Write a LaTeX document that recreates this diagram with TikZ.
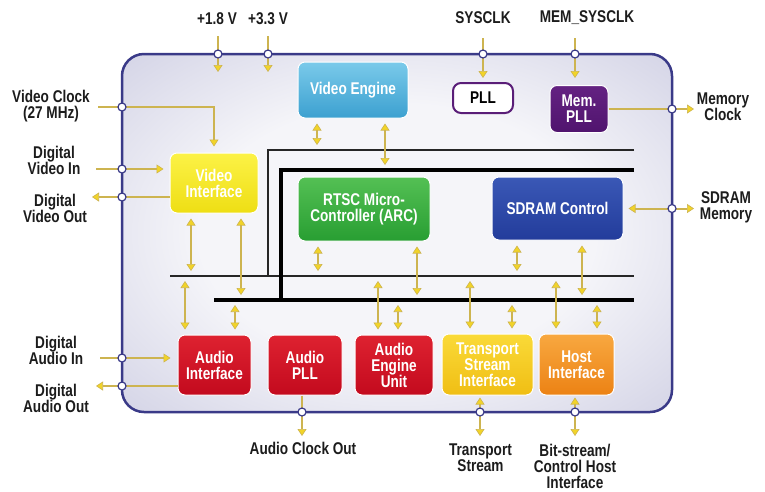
\documentclass[tikz,border=0pt]{standalone}
\usepackage{fontspec}
\setmainfont{Liberation Sans}[FakeStretch=0.8]
\usetikzlibrary{arrows.meta}
\definecolor{navy}{RGB}{58,58,136}
\definecolor{chipin}{RGB}{245,245,249}
\definecolor{chipmid}{RGB}{215,215,232}
\definecolor{chipout}{RGB}{176,176,210}
\definecolor{wirec}{RGB}{205,180,80}
\definecolor{headc}{RGB}{242,212,40}
\definecolor{labc}{RGB}{28,28,28}
\definecolor{vetop}{RGB}{122,202,234}
\definecolor{vebot}{RGB}{60,160,208}
\definecolor{vitop}{RGB}{252,242,70}
\definecolor{vibot}{RGB}{238,222,20}
\definecolor{rttop}{RGB}{84,192,84}
\definecolor{rtbot}{RGB}{40,158,50}
\definecolor{sdtop}{RGB}{58,88,182}
\definecolor{sdbot}{RGB}{35,60,155}
\definecolor{mptop}{RGB}{100,34,130}
\definecolor{mpbot}{RGB}{80,20,110}
\definecolor{pllc}{RGB}{90,30,120}
\definecolor{rdtop}{RGB}{222,34,48}
\definecolor{rdbot}{RGB}{195,10,30}
\definecolor{tstop}{RGB}{250,218,56}
\definecolor{tsbot}{RGB}{240,190,20}
\definecolor{hitop}{RGB}{248,168,64}
\definecolor{hibot}{RGB}{236,130,20}
\pgfdeclareradialshading{chipshade}{\pgfpoint{0bp}{0bp}}{color(0bp)=(chipin); color(18bp)=(chipin); color(34bp)=(chipmid); color(50bp)=(chipout)}
\begin{document}
\begin{tikzpicture}[x=1pt,y=-1pt,
  txt/.style={font=\bfseries\fontsize{17}{16}\selectfont},
  blk/.style={txt, rounded corners=7pt, draw=white, line width=1pt, text=white, align=center, inner sep=0pt},
  lbl/.style={txt, align=center, text=labc, inner sep=0pt},
  port/.style={circle, draw=navy, fill=white, line width=1.2pt, minimum size=8pt, inner sep=0pt},
  wire/.style={draw=wirec, line width=2pt},
  sar/.style={wire, -{Triangle[width=9pt,length=7pt,fill=headc,line width=0.6pt]}},
  bar/.style={wire, {Triangle[width=9pt,length=7pt,fill=headc,line width=0.6pt]}-{Triangle[width=9pt,length=7pt,fill=headc,line width=0.6pt]}, shorten <=5pt, shorten >=5pt},
  thinbus/.style={draw=black!85, line width=1.4pt},
  thickbus/.style={draw=black, line width=3.5pt}
]
\useasboundingbox (0,0) rectangle (765,491);
\fill[white] (0,0) rectangle (765,491);

% chip
\node[shade, shading=chipshade, draw=navy, line width=2.5pt, rounded corners=22pt,
      minimum width=550pt, minimum height=358pt, inner sep=0pt] (chip) at (397,233) {};

% blocks
\node[blk, minimum width=110pt, minimum height=56pt, top color=vetop, bottom color=vebot] (ve) at (353,90) {Video Engine};
\node[txt, rounded corners=8pt, draw=pllc, line width=2pt, fill=white, text=black, inner sep=0pt, minimum width=60pt, minimum height=30pt] (pll) at (483,98) {PLL};
\node[blk, minimum width=58pt, minimum height=47pt, top color=mptop, bottom color=mpbot] (mpll) at (579,109) {Mem.\\PLL};
\node[blk, minimum width=88pt, minimum height=60pt, top color=vitop, bottom color=vibot] (vi) at (214,183) {Video\\Interface};
\node[blk, minimum width=132pt, minimum height=64pt, top color=rttop, bottom color=rtbot] (rtsc) at (364,209) {RTSC Micro-\\Controller (ARC)};
\node[blk, minimum width=131pt, minimum height=63pt, top color=sdtop, bottom color=sdbot] (sdram) at (557.5,208.5) {SDRAM Control};
\node[blk, minimum width=73pt, minimum height=60pt, top color=rdtop, bottom color=rdbot] (ai) at (214.5,365) {Audio\\Interface};
\node[blk, minimum width=74pt, minimum height=60pt, top color=rdtop, bottom color=rdbot] (apll) at (305,365) {Audio\\PLL};
\node[blk, minimum width=78pt, minimum height=60pt, top color=rdtop, bottom color=rdbot] (aeu) at (394,365) {Audio\\Engine\\Unit};
\node[blk, minimum width=91pt, minimum height=61pt, top color=tstop, bottom color=tsbot] (tsi) at (487.5,364.5) {Transport\\Stream\\Interface};
\node[blk, minimum width=75pt, minimum height=61pt, top color=hitop, bottom color=hibot] (hi) at (576.5,364.5) {Host\\Interface};

% buses
\coordinate (bT1) at (268,150); \coordinate (bT2) at (634,150);
\coordinate (bK1) at (281,170); \coordinate (bK2) at (634,170);
\coordinate (bB1) at (170,276); \coordinate (bB2) at (634,276);
\coordinate (bH1) at (214,300); \coordinate (bH2) at (634,300);
\draw[thinbus] (bT2) -- (bT1) -- (bT1 |- bB1);
\draw[thinbus] (bB1) -- (bB2);
\draw[thickbus] (bK2) -- (bK1) -- (bK1 |- bH1);
\draw[thickbus] (bH1) -- (bH2);

% bus taps
\path ([xshift=-36pt]ve.south) coordinate (v1) ([xshift=32pt]ve.south) coordinate (v2)
  ([xshift=-23pt]vi.south) coordinate (v3) ([xshift=27pt]vi.south) coordinate (v4)
  ([xshift=-46pt]rtsc.south) coordinate (r1) ([xshift=53pt]rtsc.south) coordinate (r2)
  ([xshift=-40.5pt]sdram.south) coordinate (s1) ([xshift=24.5pt]sdram.south) coordinate (s2)
  ([xshift=-29.5pt]ai.north) coordinate (a1) ([xshift=20.5pt]ai.north) coordinate (a2)
  ([xshift=-16pt]aeu.north) coordinate (e1) ([xshift=4pt]aeu.north) coordinate (e2)
  ([xshift=-17.5pt]tsi.north) coordinate (t1) ([xshift=24.5pt]tsi.north) coordinate (t2)
  ([xshift=-20.5pt]hi.north) coordinate (h1) ([xshift=20.5pt]hi.north) coordinate (h2);
\draw[bar] (v1) -- (v1 |- bT1);
\draw[bar] (v2) -- (v2 |- bK1);
\draw[bar] (v3) -- (v3 |- bB1);
\draw[bar] (v4) -- (v4 |- bH1);
\draw[bar] (r1) -- (r1 |- bB1);
\draw[bar] (r2) -- (r2 |- bH1);
\draw[bar] (s1) -- (s1 |- bB1);
\draw[bar] (s2) -- (s2 |- bH1);
\draw[bar] (a1 |- bB1) -- (a1);
\draw[bar] (a2 |- bH1) -- (a2);
\draw[bar] (e1 |- bB1) -- (e1);
\draw[bar] (e2 |- bH1) -- (e2);
\draw[bar] (t1 |- bB1) -- (t1);
\draw[bar] (t2 |- bH1) -- (t2);
\draw[bar] (h1 |- bB1) -- (h1);
\draw[bar] (h2 |- bH1) -- (h2);

% external labels
\node[lbl] (l18) at (217,19) {+1.8 V};
\node[lbl] (l33) at (268,19) {+3.3 V};
\node[lbl] (lsys) at (483,17.5) {SYSCLK};
\node[lbl] (lmem) at (587,17.5) {MEM\_SYSCLK};
\node[lbl] (lvc) at (51,106) {Video Clock\\(27 MHz)};
\node[lbl] (lvin) at (54,160) {Digital\\Video In};
\node[lbl] (lvout) at (55,208) {Digital\\Video Out};
\node[lbl] (lmc) at (723,107) {Memory\\Clock};
\node[lbl] (lsd) at (726,207.5) {SDRAM\\Memory};
\node[lbl] (lain) at (56,350) {Digital\\Audio In};
\node[lbl] (laout) at (56,398) {Digital\\Audio Out};
\node[lbl] (lac) at (303,448.5) {Audio Clock Out};
\node[lbl] (lts) at (480.5,458) {Transport\\Stream};
\node[lbl] (lhi) at (575,466) {Bit-stream/\\Control Host\\Interface};

% external wires
\coordinate (s18) at (218,36); \coordinate (e18) at (218,72);
\coordinate (s33) at (268,36); \coordinate (e33) at (268,72);
\coordinate (ssys) at (483,38);
\coordinate (smem) at (575,38);
\coordinate (svc) at (98,107);
\coordinate (svin) at (96,169);
\coordinate (evout) at (92,197);
\coordinate (emc) at (694,109);
\coordinate (esd) at (694,208.5);
\coordinate (sain) at (100,358);
\coordinate (eaout) at (96,386);
\coordinate (eac) at (302,436);
\coordinate (ets) at (480,436);
\coordinate (ehi) at (575,436);

\draw[sar] (s18) -- (e18);
\draw[sar] (s33) -- (e33);
\draw[sar, shorten >=4pt] (ssys) -- (pll.north);
\draw[sar, shorten >=7pt] (smem) -- (smem |- mpll.north);
\draw[sar, shorten >=6pt] (svc) -- (svc -| vi.north) -- (vi.north);
\draw[sar, shorten >=6pt] (svin) -- (svin -| vi.west);
\draw[sar] (vi.west |- evout) -- (evout);
\draw[sar] (mpll.east) -- (emc);
\draw[bar, shorten >=0pt] (sdram.east) -- (esd);
\draw[sar, shorten >=7pt] (sain) -- (sain -| ai.west);
\draw[sar] (ai.west |- eaout) -- (eaout);
\draw[sar] (apll.south -| eac) -- (eac);
\draw[bar, shorten <=2pt, shorten >=0pt] (tsi.south -| ets) -- (ets);
\draw[bar, shorten <=2pt, shorten >=0pt] (hi.south -| ehi) -- (ehi);

% ports on the chip border
\node[port] (p18) at (218,54) {};
\node[port] (p33) at (268,54) {};
\node[port] (psys) at (483,54) {};
\node[port] (pmem) at (575,54) {};
\node[port] (pvc) at (122,107) {};
\node[port] (pvin) at (122,169) {};
\node[port] (pvout) at (122,197) {};
\node[port] (pmc) at (672,109) {};
\node[port] (psd) at (672,208.5) {};
\node[port] (pain) at (122,358) {};
\node[port] (paout) at (122,386) {};
\node[port] (pac) at (302,412) {};
\node[port] (pts) at (480,412) {};
\node[port] (phi) at (575,412) {};
\end{tikzpicture}
\end{document}
